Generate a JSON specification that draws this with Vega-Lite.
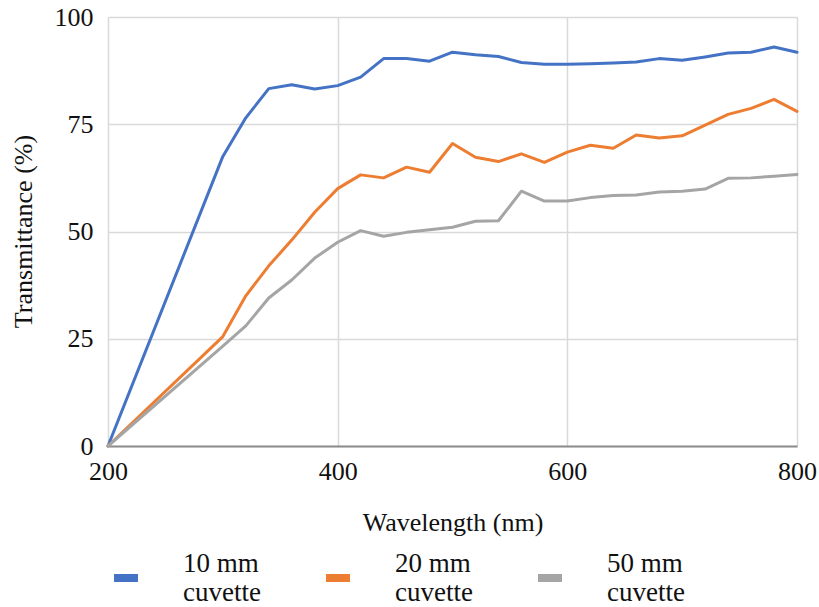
{
  "$schema": "https://vega.github.io/schema/vega-lite/v6.json",
  "width": 689,
  "height": 429,
  "autosize": {"type": "none"},
  "padding": {"left": 108, "top": 17, "right": 22, "bottom": 161},
  "background": "white",
  "config": {
    "view": {"stroke": null},
    "font": "Liberation Serif",
    "axis": {"labelFont": "Liberation Serif", "titleFont": "Liberation Serif"},
    "legend": {"labelFont": "Liberation Serif", "titleFont": "Liberation Serif"}
  },
  "data": {
    "values": [
      {"nm": 200, "s": "10 mm cuvette", "t": 0},
      {"nm": 300, "s": "10 mm cuvette", "t": 67.5},
      {"nm": 320, "s": "10 mm cuvette", "t": 76.5},
      {"nm": 340, "s": "10 mm cuvette", "t": 83.3},
      {"nm": 360, "s": "10 mm cuvette", "t": 84.2},
      {"nm": 380, "s": "10 mm cuvette", "t": 83.2},
      {"nm": 400, "s": "10 mm cuvette", "t": 84.0},
      {"nm": 420, "s": "10 mm cuvette", "t": 86.0},
      {"nm": 440, "s": "10 mm cuvette", "t": 90.3},
      {"nm": 460, "s": "10 mm cuvette", "t": 90.3},
      {"nm": 480, "s": "10 mm cuvette", "t": 89.7},
      {"nm": 500, "s": "10 mm cuvette", "t": 91.8},
      {"nm": 520, "s": "10 mm cuvette", "t": 91.2},
      {"nm": 540, "s": "10 mm cuvette", "t": 90.8},
      {"nm": 560, "s": "10 mm cuvette", "t": 89.4},
      {"nm": 580, "s": "10 mm cuvette", "t": 89.0},
      {"nm": 600, "s": "10 mm cuvette", "t": 89.0},
      {"nm": 620, "s": "10 mm cuvette", "t": 89.1},
      {"nm": 640, "s": "10 mm cuvette", "t": 89.3},
      {"nm": 660, "s": "10 mm cuvette", "t": 89.5},
      {"nm": 680, "s": "10 mm cuvette", "t": 90.3},
      {"nm": 700, "s": "10 mm cuvette", "t": 89.9},
      {"nm": 720, "s": "10 mm cuvette", "t": 90.7},
      {"nm": 740, "s": "10 mm cuvette", "t": 91.6},
      {"nm": 760, "s": "10 mm cuvette", "t": 91.8},
      {"nm": 780, "s": "10 mm cuvette", "t": 93.0},
      {"nm": 800, "s": "10 mm cuvette", "t": 91.8},
      {"nm": 200, "s": "20 mm cuvette", "t": 0},
      {"nm": 300, "s": "20 mm cuvette", "t": 25.5},
      {"nm": 320, "s": "20 mm cuvette", "t": 35.0},
      {"nm": 340, "s": "20 mm cuvette", "t": 42.0},
      {"nm": 360, "s": "20 mm cuvette", "t": 48.0},
      {"nm": 380, "s": "20 mm cuvette", "t": 54.5},
      {"nm": 400, "s": "20 mm cuvette", "t": 60.0},
      {"nm": 420, "s": "20 mm cuvette", "t": 63.2},
      {"nm": 440, "s": "20 mm cuvette", "t": 62.5},
      {"nm": 460, "s": "20 mm cuvette", "t": 65.0},
      {"nm": 480, "s": "20 mm cuvette", "t": 63.8},
      {"nm": 500, "s": "20 mm cuvette", "t": 70.5},
      {"nm": 520, "s": "20 mm cuvette", "t": 67.3},
      {"nm": 540, "s": "20 mm cuvette", "t": 66.3},
      {"nm": 560, "s": "20 mm cuvette", "t": 68.1},
      {"nm": 580, "s": "20 mm cuvette", "t": 66.1},
      {"nm": 600, "s": "20 mm cuvette", "t": 68.5},
      {"nm": 620, "s": "20 mm cuvette", "t": 70.1},
      {"nm": 640, "s": "20 mm cuvette", "t": 69.4},
      {"nm": 660, "s": "20 mm cuvette", "t": 72.5},
      {"nm": 680, "s": "20 mm cuvette", "t": 71.8},
      {"nm": 700, "s": "20 mm cuvette", "t": 72.3},
      {"nm": 720, "s": "20 mm cuvette", "t": 74.8},
      {"nm": 740, "s": "20 mm cuvette", "t": 77.3},
      {"nm": 760, "s": "20 mm cuvette", "t": 78.7},
      {"nm": 780, "s": "20 mm cuvette", "t": 80.8},
      {"nm": 800, "s": "20 mm cuvette", "t": 78.0},
      {"nm": 200, "s": "50 mm cuvette", "t": 0},
      {"nm": 300, "s": "50 mm cuvette", "t": 23.3},
      {"nm": 320, "s": "50 mm cuvette", "t": 28.0},
      {"nm": 340, "s": "50 mm cuvette", "t": 34.5},
      {"nm": 360, "s": "50 mm cuvette", "t": 38.7},
      {"nm": 380, "s": "50 mm cuvette", "t": 43.8},
      {"nm": 400, "s": "50 mm cuvette", "t": 47.5},
      {"nm": 420, "s": "50 mm cuvette", "t": 50.2},
      {"nm": 440, "s": "50 mm cuvette", "t": 48.9},
      {"nm": 460, "s": "50 mm cuvette", "t": 49.8},
      {"nm": 480, "s": "50 mm cuvette", "t": 50.4},
      {"nm": 500, "s": "50 mm cuvette", "t": 51.0},
      {"nm": 520, "s": "50 mm cuvette", "t": 52.4},
      {"nm": 540, "s": "50 mm cuvette", "t": 52.5},
      {"nm": 560, "s": "50 mm cuvette", "t": 59.4},
      {"nm": 580, "s": "50 mm cuvette", "t": 57.1},
      {"nm": 600, "s": "50 mm cuvette", "t": 57.1},
      {"nm": 620, "s": "50 mm cuvette", "t": 57.9},
      {"nm": 640, "s": "50 mm cuvette", "t": 58.4},
      {"nm": 660, "s": "50 mm cuvette", "t": 58.5},
      {"nm": 680, "s": "50 mm cuvette", "t": 59.2},
      {"nm": 700, "s": "50 mm cuvette", "t": 59.4},
      {"nm": 720, "s": "50 mm cuvette", "t": 59.9},
      {"nm": 740, "s": "50 mm cuvette", "t": 62.4},
      {"nm": 760, "s": "50 mm cuvette", "t": 62.5},
      {"nm": 780, "s": "50 mm cuvette", "t": 62.9},
      {"nm": 800, "s": "50 mm cuvette", "t": 63.3}
    ]
  },
  "mark": {"type": "line", "strokeWidth": 3, "strokeJoin": "round", "strokeCap": "round", "clip": false},
  "encoding": {
    "x": {
      "field": "nm",
      "type": "quantitative",
      "scale": {"domain": [200, 800], "nice": false, "zero": false},
      "axis": {
        "title": "Wavelength (nm)",
        "values": [200, 400, 600, 800],
        "ticks": false,
        "tickSize": 0,
        "labelFont": "Liberation Serif",
        "labelFontSize": 26,
        "labelColor": "#111111",
        "labelBaseline": "alphabetic",
        "labelPadding": 33,
        "labelFlush": false,
        "domainColor": "#8c8c8c",
        "domainWidth": 2,
        "gridColor": "#d9d9d9",
        "gridWidth": 1.5,
        "titleFont": "Liberation Serif",
        "titleFontSize": 26,
        "titleFontWeight": "normal",
        "titleColor": "#111111",
        "titleBaseline": "alphabetic",
        "titleY": 84
      }
    },
    "y": {
      "field": "t",
      "type": "quantitative",
      "scale": {"domain": [0, 100], "nice": false},
      "axis": {
        "title": "Transmittance (%)",
        "values": [0, 25, 50, 75, 100],
        "ticks": false,
        "tickSize": 0,
        "domain": false,
        "labelFont": "Liberation Serif",
        "labelFontSize": 26,
        "labelColor": "#111111",
        "labelPadding": 15,
        "labelFlush": false,
        "gridColor": "#d9d9d9",
        "gridWidth": 1.5,
        "titleFont": "Liberation Serif",
        "titleFontSize": 26,
        "titleFontWeight": "normal",
        "titleColor": "#111111",
        "titleX": -72,
        "titleY": 214
      }
    },
    "color": {
      "field": "s",
      "type": "nominal",
      "scale": {
        "domain": ["10 mm cuvette", "20 mm cuvette", "50 mm cuvette"],
        "range": ["#4472C4", "#ED7D31", "#A5A5A5"]
      },
      "legend": {
        "title": null,
        "orient": "none",
        "direction": "horizontal",
        "legendX": 2,
        "legendY": 545,
        "symbolType": "stroke",
        "symbolStrokeWidth": 8,
        "symbolSize": 576,
        "labelExpr": "[replace(datum.label, ' cuvette', ''), 'cuvette']",
        "labelFont": "Liberation Serif",
        "labelFontSize": 27,
        "labelLineHeight": 26,
        "labelColor": "#111111",
        "labelOffset": 41,
        "labelBaseline": "bottom",
        "labelLimit": 200,
        "columnPadding": 49
      }
    }
  }
}
